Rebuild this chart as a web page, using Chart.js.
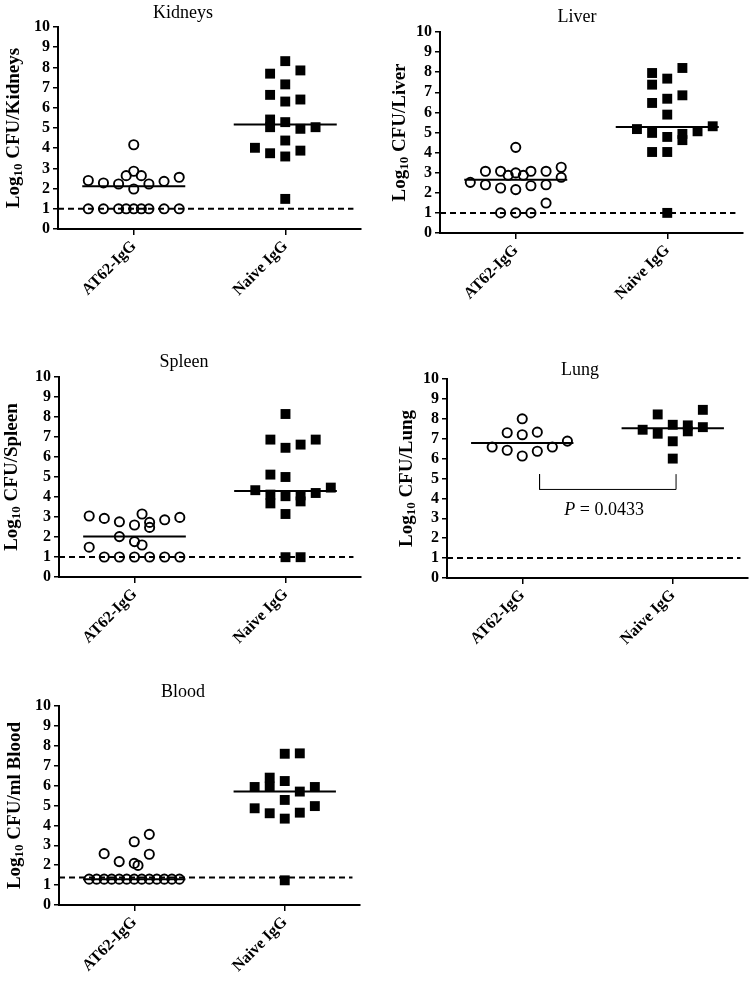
<!DOCTYPE html>
<html>
<head>
<meta charset="utf-8">
<script src="https://cdn.jsdelivr.net/npm/chart.js@4.4.0/dist/chart.umd.min.js"></script>
<style>
  body { margin: 0; background: #fff; width: 755px; height: 983px; position: relative; overflow: hidden; }
  canvas { position: absolute; }
</style>
</head>
<body>
<canvas id="kidneys" style="left:0px;top:0px" width="375" height="310"></canvas>
<canvas id="liver" style="left:380px;top:0px" width="375" height="310"></canvas>
<canvas id="spleen" style="left:0px;top:330px" width="375" height="320"></canvas>
<canvas id="lung" style="left:380px;top:330px" width="375" height="320"></canvas>
<canvas id="blood" style="left:0px;top:660px" width="375" height="323"></canvas>
<script>
const groupLabels = ['AT62-IgG', 'Naive IgG'];
const yTicks = [0, 1, 2, 3, 4, 5, 6, 7, 8, 9, 10];

// Kidneys
const kidneysAT62 = [1, 1, 1, 1, 1, 1, 1, 1, 1, 2.40, 2.28, 2.23, 2.64, 2.86, 2.64, 2.23, 2.36, 2.56, 1.98, 4.17];
const kidneysAT62Slot = [-3, -2, -1, -0.5, 0, 0.5, 1, 2, 3, -3, -2, -1, -0.5, 0, 0.5, 1, 2, 3, 0, 0];
const kidneysNaive = [8.31, 7.69, 7.85, 7.16, 6.64, 6.31, 6.41, 5.42, 5.04, 5.29, 4.96, 5.04, 4.38, 4.02, 3.75, 3.59, 3.88, 1.49];
const kidneysNaiveSlot = [0, -1, 1, 0, -1, 0, 1, -1, -1, 0, 1, 2, 0, -2, -1, 0, 1, 0];
const kidneysMedian = [2.12, 5.17];

// Liver
const liverAT62 = [1, 1, 1, 1.49, 2.52, 2.40, 2.24, 2.16, 2.35, 2.40, 2.77, 3.27, 3.07, 3.07, 2.87, 2.99, 2.87, 3.07, 3.07, 4.26];
const liverAT62Slot = [-1, 0, 1, 2, -3, -2, -1, 0, 1, 2, 3, 3, -2, -1, -0.5, 0, 0.5, 1, 2, 0];
const liverNaive = [7.96, 7.38, 7.68, 8.21, 6.47, 6.68, 6.85, 5.89, 5.17, 4.98, 4.78, 4.93, 4.62, 5.06, 5.31, 4.03, 4.03, 1.0];
const liverNaiveSlot = [-1, -1, 0, 1, -1, 0, 1, 0, -2, -1, 0, 1, 1, 2, 3, -1, 0, 0];
const liverMedian = [2.65, 5.27];

// Spleen
const spleenAT62 = [1, 1, 1, 1, 1, 1, 1.49, 3.05, 2.93, 2.76, 2.02, 2.60, 1.77, 3.15, 1.60, 2.73, 2.48, 2.86, 2.98];
const spleenAT62Slot = [-2, -1, 0, 1, 2, 3, -3, -3, -2, -1, -1, 0, 0, 0.5, 0.5, 1, 1, 2, 3];
const spleenNaive = [8.15, 6.87, 6.46, 6.62, 6.87, 5.12, 5.0, 4.34, 4.12, 3.68, 4.04, 4.08, 3.78, 4.2, 4.47, 3.15, 0.99, 0.99];
const spleenNaiveSlot = [0, -1, 0, 1, 2, -1, 0, -2, -1, -1, 0, 1, 1, 2, 3, 0, 0, 1];
const spleenMedian = [2.02, 4.30];

// Lung
const lungAT62 = [6.58, 6.42, 7.30, 8.0, 7.2, 6.13, 7.33, 6.37, 6.58, 6.88];
const lungAT62Slot = [-2, -1, -1, 0, 0, 0, 1, 1, 2, 3];
const lungNaive = [7.45, 8.22, 7.25, 7.70, 6.87, 6.0, 7.67, 7.37, 8.45, 7.58];
const lungNaiveSlot = [-2, -1, -1, 0, 0, 0, 1, 1, 2, 2];
const lungMedian = [6.78, 7.53];
const lungBracketX = [0.115, 1.022];
const lungBracketY = [5.22, 4.45];
const lungP = '0.0433';

// Blood
const bloodAT62 = [1.3, 1.3, 1.3, 1.3, 1.3, 1.3, 1.3, 1.3, 1.3, 1.3, 1.3, 1.3, 1.3, 2.58, 2.18, 3.18, 2.09, 1.99, 3.55, 2.55];
const bloodAT62Slot = [-3, -2.5, -2, -1.5, -1, -0.5, 0, 0.5, 1, 1.5, 2, 2.5, 3, -2, -1, 0, 0, 0.25, 1, 1];
const bloodNaive = [7.60, 7.62, 5.93, 6.40, 5.95, 6.23, 5.70, 5.93, 5.28, 4.86, 4.61, 4.34, 4.64, 4.97, 1.24];
const bloodNaiveSlot = [0, 1, -2, -1, -1, 0, 1, 2, 0, -2, -1, 0, 1, 2, 0];
const bloodMedian = [1.3, 5.70];

const detectionLimit = [1, 1, 1, 1, 1.38];

const serif = '"Liberation Serif", "Times New Roman", serif';
const slotWidth = 0.1;
const medianHalf = 0.34;

// titres, axe y avec indice et texte P
const panelText = {
  id: 'panelText',
  afterDraw(chart, args, o) {
    const ctx = chart.ctx, a = chart.chartArea;
    ctx.save();
    ctx.fillStyle = '#000';
    ctx.font = '18px ' + serif;
    ctx.textAlign = 'center';
    ctx.textBaseline = 'middle';
    ctx.fillText(o.title, o.titleX, o.titleY);

    if (o.pText) {
      const x = chart.scales.x.getPixelForValue(o.pText[0]);
      const y = chart.scales.y.getPixelForValue(o.pText[1]);
      ctx.font = 'italic 18px ' + serif;
      const wP = ctx.measureText('P').width;
      ctx.font = '18px ' + serif;
      const rest = ' = ' + lungP;
      const wR = ctx.measureText(rest).width;
      let px = x - (wP + wR) / 2;
      ctx.textAlign = 'left';
      ctx.font = 'italic 18px ' + serif;
      ctx.fillText('P', px, y);
      ctx.font = '18px ' + serif;
      ctx.fillText(rest, px + wP, y);
    }

    ctx.translate(o.yTitleX, (a.top + a.bottom) / 2);
    ctx.rotate(-Math.PI / 2);
    const big = 'bold 19px ' + serif, small = 'bold 13px ' + serif;
    const rest = ' CFU/' + o.organ;
    ctx.font = big;
    const w1 = ctx.measureText('Log').width;
    const w3 = ctx.measureText(rest).width;
    ctx.font = small;
    const w2 = ctx.measureText('10').width;
    let x = -(w1 + w2 + w3) / 2;
    ctx.textAlign = 'left';
    ctx.font = big; ctx.fillText('Log', x, 0); x += w1;
    ctx.font = small; ctx.fillText('10', x, 5); x += w2;
    ctx.font = big; ctx.fillText(rest, x, 0);
    ctx.restore();
  }
};

function points(values, slots, g) {
  return values.map((v, i) => ({ x: g + slots[i] * slotWidth, y: v }));
}

function medianLine(m, g) {
  return {
    data: [{ x: g - medianHalf, y: m }, { x: g + medianHalf, y: m }],
    showLine: true, borderColor: '#000', borderWidth: 2, pointRadius: 0
  };
}

function makePanel(id, p) {
  const canvas = document.getElementById(id);
  const W = canvas.width, H = canvas.height;
  const area = p.area;
  const datasets = [
    medianLine(p.median[0], 0),
    medianLine(p.median[1], 1),
    {
      data: [{ x: -0.5, y: p.limit }, { x: 1.45, y: p.limit }],
      showLine: true, borderColor: '#000', borderWidth: 2, borderDash: [6, 4], pointRadius: 0
    },
    {
      data: points(p.at62, p.at62Slot, 0),
      pointStyle: 'circle', pointRadius: 4.6, borderWidth: 1.9,
      borderColor: '#000', backgroundColor: 'rgba(0,0,0,0)'
    },
    {
      data: points(p.naive, p.naiveSlot, 1),
      pointStyle: 'rect', pointRadius: 7, borderWidth: 0,
      borderColor: '#000', backgroundColor: '#000'
    }
  ];
  if (p.bracket) {
    datasets.push({
      data: [
        { x: lungBracketX[0], y: lungBracketY[0] }, { x: lungBracketX[0], y: lungBracketY[1] },
        { x: lungBracketX[1], y: lungBracketY[1] }, { x: lungBracketX[1], y: lungBracketY[0] }
      ],
      showLine: true, borderColor: '#000', borderWidth: 1, pointRadius: 0
    });
  }

  new Chart(canvas, {
    type: 'scatter',
    data: { datasets: datasets },
    options: {
      responsive: false,
      animation: false,
      layout: { padding: { top: area[1], right: W - area[2], left: 0, bottom: 0 } },
      plugins: {
        legend: { display: false },
        tooltip: { enabled: false },
        panelText: {
          title: p.title, titleX: p.titleX, titleY: p.titleY,
          organ: p.organ, yTitleX: p.yTitleX, pText: p.pText
        }
      },
      scales: {
        x: {
          type: 'linear', min: -0.5, max: 1.5,
          afterBuildTicks: s => { s.ticks = [{ value: 0 }, { value: 1 }]; },
          afterFit: s => { s.height = H - area[3]; },
          ticks: {
            autoSkip: false, minRotation: 45, maxRotation: 45, padding: 2,
            color: '#000', font: { family: serif, size: 16, weight: 'bold' },
            callback: (v, i) => groupLabels[i]
          },
          grid: { display: true, drawOnChartArea: false, drawTicks: true, tickLength: 6, color: '#000', lineWidth: 1.5 },
          border: { display: true, color: '#000', width: 2 }
        },
        y: {
          min: 0, max: 10,
          afterBuildTicks: s => { s.ticks = yTicks.map(v => ({ value: v })); },
          afterFit: s => { s.width = area[0]; },
          ticks: { autoSkip: false, padding: 3, color: '#000', font: { family: serif, size: 16, weight: 'bold' } },
          grid: { display: true, drawOnChartArea: false, drawTicks: true, tickLength: 5, color: '#000', lineWidth: 1.5 },
          border: { display: true, color: '#000', width: 2 }
        }
      }
    },
    plugins: [panelText]
  });
}

makePanel('kidneys', {
  title: 'Kidneys', organ: 'Kidneys', titleX: 183, titleY: 13, yTitleX: 14,
  area: [58, 27, 361, 229],
  at62: kidneysAT62, at62Slot: kidneysAT62Slot, naive: kidneysNaive, naiveSlot: kidneysNaiveSlot,
  median: kidneysMedian, limit: detectionLimit[0]
});
makePanel('liver', {
  title: 'Liver', organ: 'Liver', titleX: 197, titleY: 17, yTitleX: 20,
  area: [60, 32, 363, 233],
  at62: liverAT62, at62Slot: liverAT62Slot, naive: liverNaive, naiveSlot: liverNaiveSlot,
  median: liverMedian, limit: detectionLimit[1]
});
makePanel('spleen', {
  title: 'Spleen', organ: 'Spleen', titleX: 184, titleY: 32, yTitleX: 12,
  area: [59, 47, 361, 247],
  at62: spleenAT62, at62Slot: spleenAT62Slot, naive: spleenNaive, naiveSlot: spleenNaiveSlot,
  median: spleenMedian, limit: detectionLimit[2]
});
makePanel('lung', {
  title: 'Lung', organ: 'Lung', titleX: 200, titleY: 40, yTitleX: 27,
  area: [67, 49, 369, 248],
  at62: lungAT62, at62Slot: lungAT62Slot, naive: lungNaive, naiveSlot: lungNaiveSlot,
  median: lungMedian, limit: detectionLimit[3],
  bracket: true, pText: [0.544, 3.42]
});
makePanel('blood', {
  title: 'Blood', organ: 'ml Blood', titleX: 183, titleY: 32, yTitleX: 15,
  area: [59, 46, 360, 245],
  at62: bloodAT62, at62Slot: bloodAT62Slot, naive: bloodNaive, naiveSlot: bloodNaiveSlot,
  median: bloodMedian, limit: detectionLimit[4]
});
</script>
</body>
</html>
